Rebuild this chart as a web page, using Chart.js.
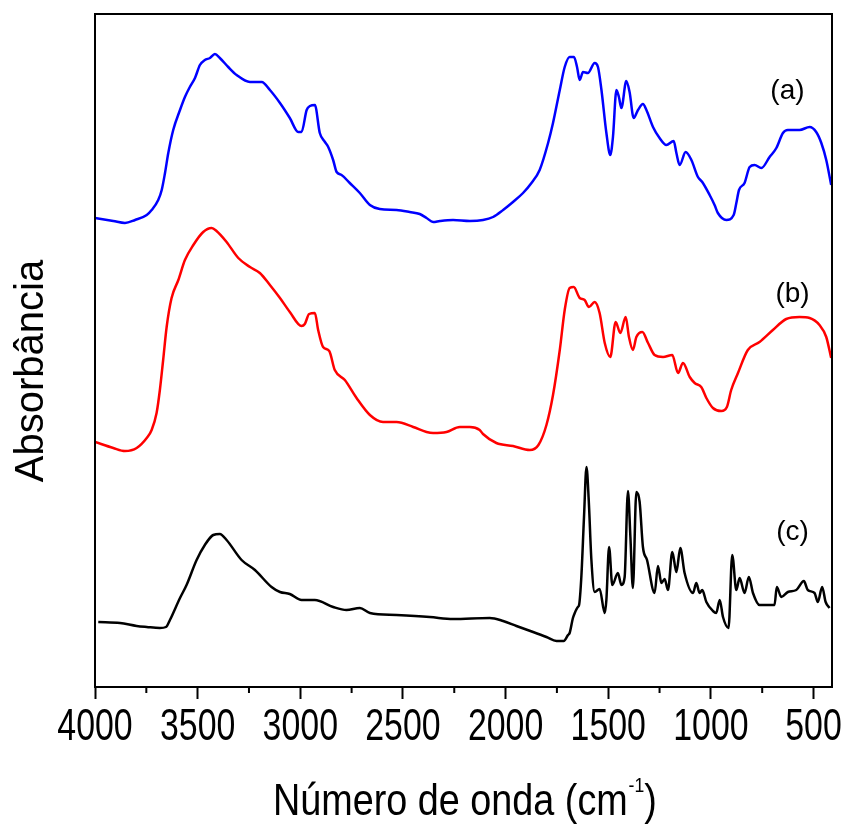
<!DOCTYPE html>
<html>
<head>
<meta charset="utf-8">
<script src="https://cdn.jsdelivr.net/npm/chart.js@4/dist/chart.umd.min.js"></script>
<style>
  body { margin: 0; background: #fff; }
  canvas { display: block; }
</style>
</head>
<body>
<canvas id="ftir" width="846" height="832"></canvas>
<script>
// wavenumber (cm-1) and absorbance (a.u., offset per curve)
const waveA = [4000,3911,3854,3805,3748,3724,3692,3675,3659,3643,3619,3586,3562,3538,3513,3489,3465,3440,3416,3392,3351,3310,3245,3188,3148,3099,3051,3010,2994,2969,2953,2929,2905,2880,2864,2840,2823,2799,2759,2710,2661,2613,2531,2467,2418,2385,2353,2320,2256,2174,2110,2061,2012,1964,1915,1874,1834,1793,1769,1736,1712,1688,1667,1652,1639,1623,1599,1566,1550,1533,1509,1490,1477,1460,1448,1436,1412,1396,1376,1355,1331,1314,1282,1250,1217,1181,1168,1152,1123,1095,1063,1042,1006,982,966,925,889,876,863,836,811,787,754,714,681,649,625,568,519,487,462,438,414];
const absA  = [4.69,4.66,4.64,4.67,4.72,4.77,4.87,4.97,5.14,5.34,5.57,5.77,5.90,6.00,6.09,6.22,6.27,6.29,6.33,6.29,6.20,6.12,6.05,6.05,5.97,5.84,5.69,5.55,5.55,5.77,5.81,5.82,5.54,5.45,5.40,5.27,5.15,5.12,5.04,4.94,4.82,4.78,4.77,4.75,4.73,4.69,4.65,4.66,4.67,4.66,4.67,4.70,4.77,4.85,4.94,5.04,5.17,5.44,5.64,5.97,6.20,6.30,6.30,6.20,6.07,6.15,6.14,6.24,6.20,5.97,5.54,5.32,5.50,5.97,5.90,5.79,6.06,5.95,5.69,5.77,5.83,5.77,5.60,5.49,5.42,5.46,5.34,5.22,5.35,5.27,5.10,5.05,4.92,4.82,4.74,4.67,4.72,4.84,4.97,5.04,5.20,5.22,5.19,5.30,5.39,5.54,5.57,5.57,5.60,5.55,5.44,5.27,5.02];

const waveB = [4000,3911,3854,3797,3748,3724,3700,3684,3668,3651,3627,3594,3562,3521,3473,3432,3408,3359,3302,3245,3197,3148,3099,3051,2994,2978,2957,2929,2913,2889,2859,2832,2783,2726,2661,2597,2531,2450,2385,2353,2288,2223,2174,2126,2110,2045,1964,1882,1840,1801,1769,1736,1712,1688,1668,1639,1615,1594,1566,1542,1517,1490,1464,1441,1415,1399,1380,1363,1334,1306,1274,1233,1188,1160,1136,1103,1079,1047,1022,990,949,922,901,868,820,763,698,633,568,519,471,438,414];
const absB  = [2.45,2.39,2.36,2.39,2.49,2.57,2.74,2.97,3.27,3.60,3.89,4.07,4.27,4.42,4.55,4.59,4.56,4.45,4.29,4.20,4.14,4.02,3.89,3.75,3.61,3.63,3.73,3.74,3.57,3.40,3.36,3.17,3.07,2.89,2.72,2.65,2.65,2.60,2.55,2.54,2.55,2.60,2.60,2.57,2.53,2.44,2.41,2.37,2.42,2.62,2.92,3.37,3.77,3.99,4.00,3.89,3.87,3.80,3.85,3.74,3.44,3.30,3.65,3.54,3.70,3.50,3.37,3.50,3.55,3.44,3.32,3.30,3.32,3.14,3.24,3.10,3.04,3.00,2.89,2.79,2.76,2.80,2.97,3.14,3.37,3.45,3.57,3.68,3.70,3.69,3.62,3.50,3.29];

const waveC = [3984,3878,3797,3748,3684,3654,3635,3586,3554,3505,3465,3424,3392,3359,3286,3221,3140,3099,3051,2994,2929,2840,2775,2710,2661,2531,2369,2256,2077,2012,1947,1866,1801,1752,1717,1696,1688,1672,1663,1648,1642,1631,1618,1606,1595,1582,1566,1542,1517,1509,1496,1480,1453,1436,1420,1404,1392,1380,1363,1347,1331,1311,1274,1258,1241,1225,1209,1188,1168,1149,1128,1087,1071,1055,1042,1022,990,974,957,941,914,896,876,860,836,815,795,763,690,679,657,625,584,547,528,495,479,458,441,422];
const absC  = [0.65,0.64,0.61,0.60,0.59,0.60,0.67,0.89,1.02,1.27,1.42,1.52,1.53,1.47,1.27,1.17,1.00,0.95,0.93,0.87,0.87,0.80,0.77,0.79,0.74,0.72,0.70,0.68,0.69,0.66,0.61,0.55,0.50,0.46,0.46,0.52,0.54,0.69,0.74,0.80,0.82,1.10,1.70,2.20,1.87,1.27,0.95,0.98,0.74,0.87,1.40,1.02,1.14,1.02,1.10,1.96,1.50,0.99,1.95,1.85,1.40,1.27,0.94,1.21,1.04,1.08,0.97,1.35,1.15,1.39,1.14,0.94,1.04,0.94,0.97,0.85,0.76,0.74,0.87,0.70,0.59,1.32,0.97,1.09,0.94,1.10,0.94,0.82,0.82,1.00,0.90,0.95,0.97,1.06,0.97,0.94,0.85,1.00,0.85,0.79];

const majorTicks = [4000,3500,3000,2500,2000,1500,1000,500];
const minorTicks = [3750,3250,2750,2250,1750,1250,750];

const curveLabels = ['(a)', '(b)', '(c)'];
const labelWave = [627, 602, 602];
const labelAbs = [5.96, 3.93, 1.55];

function pts(xs, ys) {
    return xs.map((x, i) => ({ x: x, y: ys[i] }));
}

const SANS = '"Liberation Sans", Arial, sans-serif';

const framePlugin = {
    id: 'frame',
    afterDraw(chart) {
        const ctx = chart.ctx;
        const a = chart.chartArea;
        const xs = chart.scales.x;
        const ys = chart.scales.y;
        ctx.save();
        ctx.strokeStyle = '#000';
        ctx.fillStyle = '#000';
        ctx.lineWidth = 2;
        ctx.strokeRect(a.left, a.top, a.right - a.left, a.bottom - a.top);

        // minor ticks
        ctx.beginPath();
        minorTicks.forEach(v => {
            const px = xs.getPixelForValue(v);
            ctx.moveTo(px, a.bottom);
            ctx.lineTo(px, a.bottom + 6);
        });
        ctx.stroke();

        // tick labels, narrow look
        ctx.font = '44px ' + SANS;
        ctx.textAlign = 'center';
        ctx.textBaseline = 'alphabetic';
        majorTicks.forEach(v => {
            ctx.save();
            ctx.translate(xs.getPixelForValue(v), a.bottom + 53);
            ctx.scale(0.77, 1);
            ctx.fillText(String(v), 0, 0);
            ctx.restore();
        });

        // curve labels
        ctx.font = '28px ' + SANS;
        ctx.textBaseline = 'middle';
        curveLabels.forEach((t, i) => {
            ctx.fillText(t, xs.getPixelForValue(labelWave[i]), ys.getPixelForValue(labelAbs[i]));
        });

        // y title
        ctx.save();
        ctx.translate(43, 371);
        ctx.rotate(-Math.PI / 2);
        ctx.font = '40px ' + SANS;
        ctx.textBaseline = 'alphabetic';
        ctx.textAlign = 'center';
        ctx.fillText('Absorbância', 0, 0);
        ctx.restore();

        // x title with superscript
        const main = 'Número de onda (cm';
        const sup = '-1';
        const close = ')';
        const bigFont = '45px ' + SANS;
        const smallFont = '21px ' + SANS;
        ctx.textAlign = 'left';
        ctx.textBaseline = 'alphabetic';
        ctx.font = bigFont;
        const w1 = ctx.measureText(main).width;
        const w3 = ctx.measureText(close).width;
        ctx.font = smallFont;
        const w2 = ctx.measureText(sup).width;
        const total = w1 + w2 + w3;
        const sx = 383 / total;
        ctx.save();
        ctx.translate(464.5 - 383 / 2, 815);
        ctx.scale(sx, 1);
        ctx.font = bigFont;
        ctx.fillText(main, 0, 0);
        ctx.font = smallFont;
        ctx.fillText(sup, w1 + 1, -23);
        ctx.font = bigFont;
        ctx.fillText(close, w1 + w2 + 1, 0);
        ctx.restore();
        ctx.restore();
    }
};

const curve = (data, color) => ({
    data: data,
    borderColor: color,
    borderWidth: 2.5,
    pointRadius: 0,
    fill: false,
    cubicInterpolationMode: 'monotone'
});

new Chart(document.getElementById('ftir').getContext('2d'), {
    type: 'line',
    data: {
        datasets: [
            curve(pts(waveA, absA), '#0000ff'),
            curve(pts(waveB, absB), '#ff0000'),
            curve(pts(waveC, absC), '#000000')
        ]
    },
    options: {
        responsive: false,
        animation: false,
        layout: { padding: { top: 14, right: 14, left: 0, bottom: 0 } },
        plugins: { legend: { display: false }, tooltip: { enabled: false } },
        scales: {
            x: {
                type: 'linear',
                reverse: true,
                min: 410,
                max: 4000,
                afterBuildTicks: scale => {
                    scale.ticks = majorTicks.map(v => ({ value: v }));
                },
                afterFit: scale => {
                    scale.height = 145;
                    scale.paddingLeft = 0;
                    scale.paddingRight = 0;
                },
                grid: {
                    display: true,
                    drawOnChartArea: false,
                    drawTicks: true,
                    tickLength: 12,
                    tickWidth: 2,
                    tickColor: '#000'
                },
                border: { display: true, color: '#000', width: 2 },
                ticks: { display: false }
            },
            y: {
                min: 0,
                max: 6.73,
                afterFit: scale => { scale.width = 95; },
                grid: { display: false },
                border: { display: false },
                ticks: { display: false }
            }
        }
    },
    plugins: [framePlugin]
});
</script>
</body>
</html>
